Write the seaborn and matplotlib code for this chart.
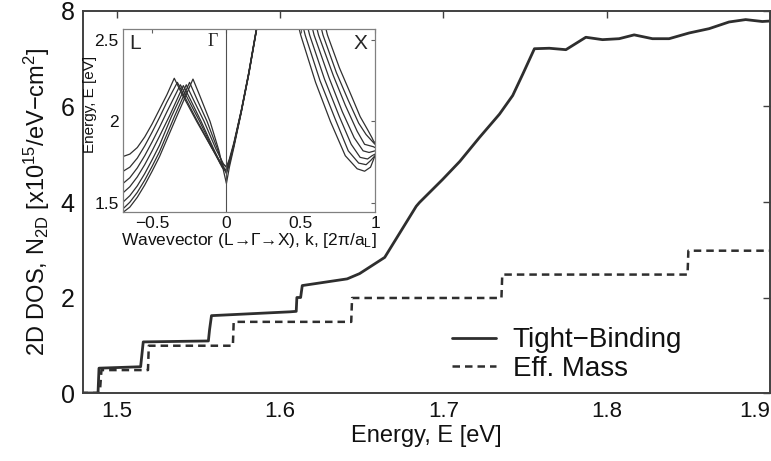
import numpy as np
import pandas as pd
import matplotlib
matplotlib.use("Agg")
import matplotlib.pyplot as plt
import seaborn as sns

# ---------------- data ----------------
tb_energy = [1.470, 1.4884, 1.4890, 1.5145, 1.5161, 1.5560, 1.5567, 1.5579, 1.606, 1.6098,
             1.6102, 1.6125, 1.6135, 1.641, 1.6486, 1.664, 1.6833, 1.6853, 1.6994, 1.710,
             1.722, 1.7343, 1.7424, 1.7486, 1.7557, 1.7648, 1.775, 1.7872, 1.7974, 1.8076,
             1.8168, 1.828, 1.8382, 1.8505, 1.8627, 1.8749, 1.8851, 1.8953, 1.900]
tb_dos = [0.0, 0.0, 0.52, 0.55, 1.07, 1.09, 1.32, 1.62, 1.70, 1.71,
          2.00, 2.00, 2.25, 2.39, 2.50, 2.84, 3.91, 3.99, 4.47, 4.85,
          5.35, 5.84, 6.23, 6.68, 7.21, 7.22, 7.19, 7.45, 7.40, 7.42,
          7.50, 7.42, 7.42, 7.54, 7.63, 7.77, 7.82, 7.78, 7.79]

em_energy = [1.470, 1.4895, 1.4905, 1.519, 1.5195, 1.571, 1.5715, 1.6435, 1.644,
             1.7355, 1.736, 1.8495, 1.850, 1.900]
em_dos = [0.0, 0.0, 0.48, 0.48, 0.99, 0.99, 1.49, 1.49, 1.99,
          1.99, 2.48, 2.48, 2.98, 2.98]

x_ticks = [1.5, 1.6, 1.7, 1.8, 1.9]
y_ticks = [0, 2, 4, 6, 8]

# inset band structure: L -> Gamma -> (rising toward X)
band_left_k = [
    [-0.70, -0.65, -0.60, -0.55, -0.50, -0.45, -0.40, -0.351, -0.30, -0.20, -0.10, -0.04, 0.0, 0.02, 0.05, 0.10, 0.15, 0.20, 0.23],
    [-0.70, -0.65, -0.60, -0.55, -0.50, -0.45, -0.40, -0.330, -0.28, -0.20, -0.10, -0.04, 0.0, 0.02, 0.05, 0.10, 0.15, 0.20, 0.23],
    [-0.70, -0.65, -0.60, -0.55, -0.50, -0.45, -0.40, -0.310, -0.26, -0.18, -0.09, -0.03, 0.0, 0.02, 0.05, 0.10, 0.15, 0.20, 0.23],
    [-0.70, -0.65, -0.60, -0.55, -0.50, -0.45, -0.38, -0.290, -0.24, -0.17, -0.08, -0.02, 0.0, 0.02, 0.05, 0.10, 0.15, 0.20, 0.23],
    [-0.70, -0.65, -0.60, -0.55, -0.50, -0.45, -0.37, -0.270, -0.22, -0.15, -0.07, -0.02, 0.0, 0.02, 0.05, 0.10, 0.15, 0.20, 0.23],
    [-0.70, -0.65, -0.60, -0.55, -0.50, -0.45, -0.35, -0.248, -0.20, -0.13, -0.06, -0.02, 0.0, 0.02, 0.05, 0.10, 0.15, 0.20, 0.23],
    [-0.70, -0.65, -0.60, -0.55, -0.50, -0.45, -0.33, -0.225, -0.18, -0.11, -0.05, -0.015, 0.0, 0.02, 0.05, 0.10, 0.15, 0.20, 0.23],
]
band_left_e = [
    [1.784, 1.800, 1.840, 1.905, 1.985, 2.075, 2.165, 2.265, 2.170, 2.000, 1.840, 1.750, 1.720, 1.770, 1.870, 2.070, 2.300, 2.560, 2.720],
    [1.692, 1.720, 1.775, 1.850, 1.935, 2.025, 2.120, 2.240, 2.150, 2.010, 1.840, 1.740, 1.700, 1.755, 1.860, 2.065, 2.295, 2.555, 2.715],
    [1.617, 1.655, 1.715, 1.790, 1.875, 1.965, 2.060, 2.225, 2.140, 2.000, 1.830, 1.720, 1.690, 1.745, 1.855, 2.060, 2.290, 2.550, 2.710],
    [1.559, 1.600, 1.660, 1.735, 1.820, 1.910, 2.040, 2.220, 2.130, 2.000, 1.820, 1.710, 1.700, 1.750, 1.855, 2.060, 2.290, 2.550, 2.710],
    [1.502, 1.545, 1.605, 1.680, 1.765, 1.855, 2.030, 2.225, 2.130, 2.000, 1.830, 1.740, 1.720, 1.760, 1.860, 2.065, 2.295, 2.555, 2.715],
    [1.461, 1.505, 1.565, 1.640, 1.725, 1.815, 2.030, 2.240, 2.140, 2.000, 1.830, 1.720, 1.680, 1.740, 1.850, 2.060, 2.290, 2.550, 2.710],
    [1.440, 1.475, 1.535, 1.610, 1.695, 1.785, 2.040, 2.260, 2.160, 2.000, 1.820, 1.680, 1.620, 1.720, 1.840, 2.055, 2.285, 2.545, 2.705],
]
# inset: bands descending toward X
band_right_k = [
    [0.44, 0.50, 0.60, 0.70, 0.80, 0.88, 0.93, 0.97, 1.00],
    [0.47, 0.53, 0.63, 0.73, 0.82, 0.89, 0.94, 0.97, 1.00],
    [0.50, 0.56, 0.66, 0.76, 0.84, 0.90, 0.95, 0.98, 1.00],
    [0.53, 0.59, 0.69, 0.78, 0.86, 0.92, 0.96, 0.98, 1.00],
    [0.56, 0.62, 0.72, 0.80, 0.88, 0.93, 0.97, 0.99, 1.00],
    [0.59, 0.65, 0.74, 0.82, 0.89, 0.94, 0.97, 0.99, 1.00],
    [0.62, 0.68, 0.76, 0.84, 0.90, 0.95, 0.98, 0.99, 1.00],
]
band_right_e = [
    [2.75, 2.53, 2.24, 2.00, 1.79, 1.71, 1.695, 1.72, 1.79],
    [2.75, 2.53, 2.25, 2.02, 1.82, 1.745, 1.735, 1.76, 1.79],
    [2.75, 2.53, 2.26, 2.03, 1.86, 1.78, 1.77, 1.79, 1.80],
    [2.75, 2.53, 2.27, 2.06, 1.90, 1.82, 1.81, 1.815, 1.82],
    [2.75, 2.53, 2.28, 2.10, 1.94, 1.86, 1.85, 1.845, 1.84],
    [2.75, 2.53, 2.30, 2.13, 1.99, 1.92, 1.89, 1.87, 1.86],
    [2.75, 2.53, 2.33, 2.16, 2.03, 1.95, 1.90, 1.88, 1.87],
]
inset_x_ticks = [-0.5, 0, 0.5, 1]
inset_y_ticks = [1.5, 2, 2.5]

# ---------------- style ----------------
sns.set_theme(style="white")
plt.rcParams["font.family"] = ["Liberation Sans", "DejaVu Sans"]
plt.rcParams["mathtext.fontset"] = "custom"
plt.rcParams["mathtext.rm"] = "Liberation Sans"
plt.rcParams["mathtext.it"] = "Liberation Sans:italic"
plt.rcParams["mathtext.default"] = "rm"

LINE = "#2e2e2e"
AX = "#404040"

fig = plt.figure(figsize=(7.71, 4.61), dpi=100)
ax = fig.add_axes([83 / 771, 68 / 461, 687 / 771, 382 / 461])

tb = pd.DataFrame({"E": tb_energy, "N": tb_dos})
em = pd.DataFrame({"E": em_energy, "N": em_dos})
sns.lineplot(data=tb, x="E", y="N", sort=False, estimator=None, ax=ax,
             color=LINE, lw=2.0, label="Tight\u2212Binding")
sns.lineplot(data=em, x="E", y="N", sort=False, estimator=None, ax=ax,
             color=LINE, lw=1.8, linestyle=(0, (3.0, 2.0)), label="Eff. Mass")

ax.set_xlim(1.4792, 1.9)
ax.set_ylim(0, 8)
ax.set_xticks(x_ticks)
ax.set_xticklabels([str(t) for t in x_ticks])
ax.set_yticks(y_ticks)
ax.set_yticklabels([str(t) for t in y_ticks])
ax.tick_params(direction="in", length=5, width=1.0, colors=AX, labelcolor="#111111",
               labelsize=16, top=True, right=True, pad=6)
ax.tick_params(axis="y", labelsize=18)
ax.get_xticklabels()[-1].set_horizontalalignment("right")
for s in ax.spines.values():
    s.set_color(AX)
    s.set_linewidth(1.4)
ax.set_xlabel("Energy, E [eV]", fontsize=17, color="#111111", labelpad=2)
ax.set_ylabel("2D DOS, N$_{2D}$ [x10$^{15}$/eV\u2212cm$^2$]", fontsize=17,
              color="#111111", labelpad=6)
leg = ax.legend(loc="center left", bbox_to_anchor=(0.50, 0.10), frameon=False,
                fontsize=20, handlelength=1.6, handletextpad=0.6, labelspacing=0.1)
for t in leg.get_texts():
    t.set_color("#111111")

# ---------------- inset ----------------
ins = fig.add_axes([123 / 771, (461 - 212) / 461, 252 / 771, 183 / 461])
rows = []
for i, (ks, es) in enumerate(zip(band_left_k, band_left_e)):
    for k, e in zip(ks, es):
        rows.append({"k": k, "E": e, "band": f"l{i}"})
for i, (ks, es) in enumerate(zip(band_right_k, band_right_e)):
    for k, e in zip(ks, es):
        rows.append({"k": k, "E": e, "band": f"r{i}"})
bands = pd.DataFrame(rows)
sns.lineplot(data=bands, x="k", y="E", units="band", estimator=None, sort=False,
             color="#303030", lw=0.9, ax=ins, legend=False)
ins.axvline(0, color="#505050", lw=0.8)
ins.set_xlim(-0.696, 1.0)
ins.set_ylim(1.445, 2.567)
ins.set_xticks(inset_x_ticks)
ins.set_xticklabels(["\u22120.5", "0", "0.5", "1"])
ins.set_yticks(inset_y_ticks)
ins.set_yticklabels(["1.5", "2", "2.5"])
ins.tick_params(direction="in", length=3, width=0.8, colors="#606060",
                labelcolor="#111111", labelsize=12.5, top=True, right=True, pad=3)
for s in ins.spines.values():
    s.set_color("#808080")
    s.set_linewidth(0.9)
ins.set_xlabel("Wavevector (L\u2192\u0393\u2192X), k, [2\u03c0/a$_L$]", fontsize=12.5,
               color="#111111", labelpad=0)
ins.set_ylabel("Energy, E [eV]", fontsize=11, color="#111111")
ins.yaxis.set_label_coords(-0.105, 0.59)
ins.text(0.025, 0.97, "L", transform=ins.transAxes, ha="left", va="top", fontsize=15)
ins.text(0.97, 0.97, "X", transform=ins.transAxes, ha="right", va="top", fontsize=15)
ins.text(-0.06, 2.54, "\u0393", ha="right", va="top", fontsize=13,
         family=["Liberation Serif", "DejaVu Serif"])

fig.savefig("out.png", dpi=100)
